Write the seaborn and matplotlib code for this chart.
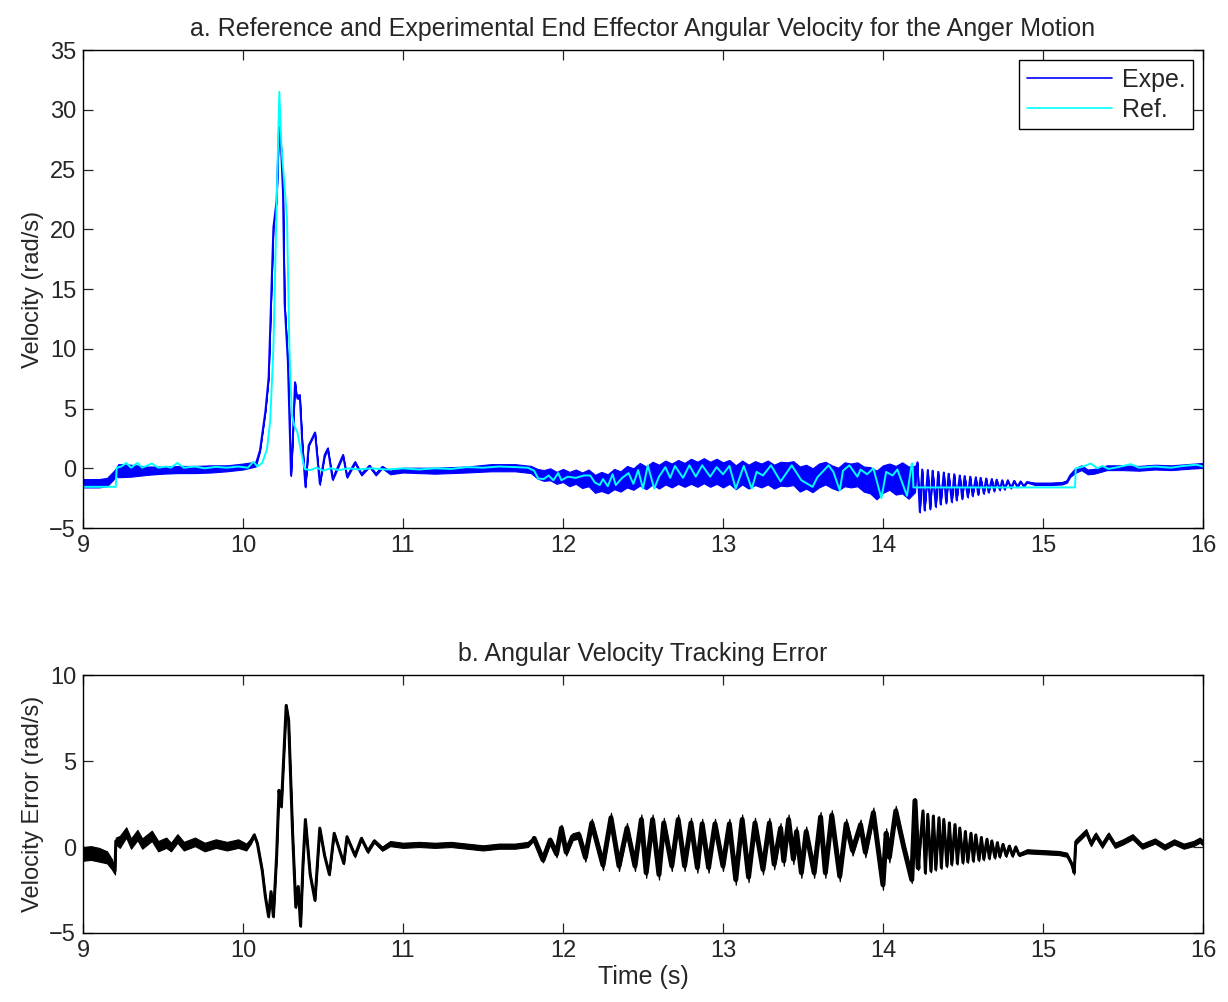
"""Reference vs experimental end effector angular velocity (anger motion) and tracking error."""

import matplotlib

matplotlib.use("Agg")
import matplotlib.pyplot as plt
import numpy as np
import seaborn as sns

# ---- data: (time s, value rad/s) ----------------------------------------------
REF_START = [
    (9.00, -1.55), (9.205, -1.55), (9.21, 0.05), (9.24, 0.15), (9.27, 0.45), (9.30, 0.05),
    (9.34, 0.45), (9.37, 0.05), (9.43, 0.40), (9.47, 0.05), (9.52, 0.15), (9.55, 0.05),
    (9.59, 0.45), (9.63, 0.05), (9.70, 0.15), (9.76, 0.0), (9.83, 0.12), (9.90, 0.05),
    (9.97, 0.15), (10.03, 0.05), (10.065, 0.55), (10.09, 0.15), (10.12, 0.45),
]
REF_PEAK = [
    (10.15, 1.6), (10.17, 4.0), (10.19, 10.0), (10.21, 22.0), (10.227, 31.5), (10.24, 27.0),
    (10.26, 23.5), (10.275, 21.0), (10.29, 10.0), (10.305, 4.5), (10.32, 3.6), (10.34, 3.0),
    (10.36, 1.6), (10.385, -0.05),
]
REF_CALM = [
    (10.42, -0.15), (10.46, 0.05), (10.50, -0.2), (10.55, 0.0), (10.60, -0.15), (10.66, 0.0),
    (10.72, -0.1), (10.80, 0.0), (10.90, -0.1), (11.00, 0.0), (11.10, -0.1), (11.20, 0.0),
    (11.30, -0.05), (11.40, 0.1), (11.50, 0.05), (11.60, 0.15), (11.70, 0.1), (11.78, 0.05),
]
REF_OSC = [
    (11.82, -0.2), (11.845, -0.85), (11.88, -0.9), (11.91, -0.6), (11.94, -1.0), (11.97, -0.4),
    (11.99, -1.0), (12.03, -0.7), (12.08, -0.8), (12.13, -0.6), (12.17, -0.6), (12.20, -1.2),
    (12.23, -1.4), (12.25, -0.9), (12.28, -1.5), (12.31, -0.5), (12.33, -1.4), (12.37, -0.8),
    (12.41, -0.4), (12.44, -1.3), (12.47, -0.15), (12.50, -1.7), (12.53, 0.25), (12.57, -1.7),
    (12.60, -0.7), (12.64, 0.1), (12.67, -0.8), (12.70, 0.2), (12.75, -0.8), (12.79, 0.25),
    (12.83, -0.7), (12.87, 0.25), (12.92, -0.7), (12.96, 0.1), (13.00, -0.5), (13.04, 0.2),
    (13.08, -1.7), (13.13, 0.2), (13.18, -1.7), (13.21, -0.3), (13.25, -0.6), (13.30, 0.25),
    (13.36, -1.1), (13.43, 0.25), (13.49, -1.0), (13.56, -1.55), (13.59, -0.75), (13.66, 0.25),
    (13.69, -0.3), (13.73, -1.85), (13.75, -0.2), (13.79, 0.25), (13.84, -0.7), (13.86, -0.1),
    (13.90, -0.5), (13.94, 0.0), (13.99, -2.5), (14.02, -0.3), (14.06, -0.6), (14.09, -0.1),
    (14.15, -2.3), (14.18, 0.4), (14.185, 0.4), (14.19, -1.6),
]
REF_END = [
    (15.20, -1.6), (15.205, 0.0), (15.24, 0.1), (15.30, 0.4), (15.34, 0.0), (15.37, 0.2),
    (15.41, -0.05), (15.47, 0.1), (15.55, 0.35), (15.60, 0.05), (15.70, 0.15), (15.80, 0.05),
    (15.88, 0.2), (15.96, 0.3), (16.00, 0.15),
]

# experimental: (time, centre, noise half-width)
EXP_START = [
    (9.00, -1.25, 0.35), (9.10, -1.25, 0.35), (9.15, -1.15, 0.35), (9.19, -0.6, 0.35),
    (9.205, -0.3, 0.3), (9.22, -0.2, 0.55), (9.30, -0.2, 0.5), (9.40, -0.2, 0.35),
    (9.50, -0.15, 0.3), (9.60, -0.1, 0.3), (9.70, -0.1, 0.3), (9.80, -0.05, 0.3),
    (9.90, 0.0, 0.25), (10.00, 0.15, 0.25), (10.08, 0.35, 0.2),
]
EXP_PEAK = [
    (10.106, 1.5, 0.1), (10.14, 4.8, 0.05), (10.16, 7.6, 0.05), (10.18, 16.0, 0.05),
    (10.19, 20.2, 0.05), (10.21, 22.4, 0.05), (10.225, 28.6, 0.05), (10.235, 27.8, 0.05),
    (10.25, 23.0, 0.05), (10.26, 13.8, 0.05), (10.28, 9.0, 0.05), (10.30, -0.6, 0.05),
    (10.31, 2.2, 0.05), (10.325, 7.2, 0.05), (10.335, 6.0, 0.15), (10.355, 6.0, 0.2),
    (10.37, 2.2, 0.05), (10.39, -1.55, 0.05), (10.41, 1.9, 0.05), (10.45, 3.0, 0.05),
    (10.48, -1.3, 0.1), (10.51, 1.1, 0.1), (10.53, 1.65, 0.1), (10.56, -0.9, 0.1),
    (10.625, 1.1, 0.1), (10.65, -0.7, 0.1), (10.70, 0.5, 0.1), (10.74, -0.5, 0.1),
    (10.79, 0.2, 0.1), (10.83, -0.5, 0.1), (10.87, 0.1, 0.1), (10.92, -0.35, 0.15),
]
EXP_CALM = [
    (11.00, -0.15, 0.2), (11.20, -0.2, 0.25), (11.40, -0.1, 0.25), (11.55, 0.05, 0.3),
    (11.70, 0.05, 0.3), (11.80, -0.1, 0.3),
]
EXP_OSC = [
    (11.84, -0.45, 0.4), (11.88, -0.6, 0.45), (11.92, -0.5, 0.5), (11.96, -0.8, 0.5),
    (12.00, -0.6, 0.55), (12.04, -0.9, 0.6), (12.08, -0.7, 0.6), (12.12, -1.0, 0.65),
    (12.16, -0.8, 0.7), (12.20, -1.3, 0.75), (12.24, -1.1, 0.8), (12.28, -1.3, 0.8),
    (12.32, -0.9, 0.85), (12.36, -1.1, 0.85), (12.40, -0.7, 0.9), (12.44, -0.9, 0.9),
    (12.48, -0.5, 0.95), (12.52, -0.8, 0.95), (12.56, -0.4, 0.95), (12.60, -0.7, 1.0),
    (12.64, -0.35, 1.0), (12.68, -0.6, 1.0), (12.72, -0.3, 1.0), (12.76, -0.55, 1.0),
    (12.80, -0.25, 1.05), (12.84, -0.5, 1.05), (12.88, -0.2, 1.05), (12.92, -0.5, 1.05),
    (12.96, -0.25, 1.05), (13.00, -0.55, 1.05), (13.04, -0.3, 1.0), (13.08, -0.75, 1.0),
    (13.12, -0.35, 1.0), (13.16, -0.7, 1.0), (13.20, -0.4, 1.0), (13.24, -0.6, 1.0),
    (13.28, -0.35, 1.0), (13.32, -0.7, 1.0), (13.36, -0.45, 1.0), (13.40, -0.5, 1.0),
    (13.44, -0.4, 1.0), (13.48, -0.9, 1.05), (13.52, -0.7, 1.0), (13.56, -1.0, 1.0),
    (13.60, -0.6, 1.0), (13.64, -0.4, 0.95), (13.68, -0.7, 0.95), (13.72, -0.9, 0.95),
    (13.76, -0.5, 1.0), (13.80, -0.6, 1.0), (13.84, -0.5, 1.0), (13.88, -0.9, 1.05),
    (13.92, -1.0, 1.1), (13.96, -1.4, 1.2), (14.00, -0.9, 1.15), (14.04, -0.7, 1.1),
    (14.08, -1.0, 1.2), (14.12, -0.8, 1.3), (14.16, -1.2, 1.35), (14.20, -0.9, 1.1),
]
EXP_SPIKES = [
    (14.215, 0.5, 0.05), (14.23, -3.65, 0.05), (14.245, -0.1, 0.05), (14.26, -3.5, 0.05),
    (14.28, -0.15, 0.05), (14.295, -3.4, 0.05), (14.31, -0.2, 0.05), (14.33, -3.2, 0.05),
    (14.345, -0.3, 0.05), (14.36, -3.0, 0.05), (14.38, -0.35, 0.05), (14.395, -2.9, 0.05),
    (14.41, -0.45, 0.05), (14.43, -2.8, 0.05), (14.445, -0.5, 0.05), (14.46, -2.65, 0.05),
    (14.48, -0.6, 0.05), (14.495, -2.55, 0.05), (14.51, -0.65, 0.05), (14.53, -2.4, 0.05),
    (14.545, -0.7, 0.05), (14.56, -2.3, 0.05), (14.58, -0.75, 0.05), (14.595, -2.2, 0.05),
    (14.61, -0.8, 0.05), (14.63, -2.1, 0.05), (14.645, -0.85, 0.05), (14.66, -2.0, 0.05),
    (14.68, -0.9, 0.05), (14.695, -1.9, 0.05), (14.71, -0.95, 0.05), (14.73, -1.8, 0.05),
    (14.745, -1.0, 0.05), (14.76, -1.75, 0.05), (14.78, -1.0, 0.05), (14.80, -1.65, 0.05),
    (14.82, -1.05, 0.05), (14.84, -1.55, 0.05), (14.86, -1.1, 0.05), (14.88, -1.5, 0.05),
    (14.90, -1.15, 0.05),
]
EXP_END = [
    (14.95, -1.3, 0.1), (15.05, -1.3, 0.1), (15.12, -1.25, 0.1), (15.15, -1.1, 0.1),
    (15.17, -0.6, 0.12), (15.20, -0.2, 0.2), (15.24, 0.05, 0.2), (15.28, -0.3, 0.2),
    (15.32, -0.25, 0.2), (15.40, 0.05, 0.2), (15.50, 0.05, 0.2), (15.60, 0.0, 0.2),
    (15.70, 0.1, 0.2), (15.80, 0.05, 0.2), (15.90, 0.15, 0.2), (16.00, 0.25, 0.2),
]

# tracking error: (time, centre, noise half-width)
ERR_START = [
    (9.00, -0.4, 0.4), (9.05, -0.35, 0.4), (9.10, -0.45, 0.4), (9.15, -0.6, 0.35),
    (9.18, -1.0, 0.3), (9.20, -1.4, 0.2), (9.205, 0.35, 0.2), (9.23, 0.3, 0.35),
    (9.27, 0.85, 0.3), (9.30, 0.2, 0.3), (9.34, 0.7, 0.3), (9.37, 0.2, 0.3),
    (9.43, 0.65, 0.3), (9.47, 0.05, 0.3), (9.52, 0.25, 0.3), (9.55, 0.0, 0.25),
    (9.59, 0.5, 0.25), (9.63, 0.05, 0.25), (9.70, 0.3, 0.25), (9.76, 0.0, 0.25),
    (9.83, 0.2, 0.25), (9.90, 0.05, 0.25), (9.97, 0.2, 0.25), (10.02, 0.0, 0.2),
    (10.05, 0.35, 0.15),
]
ERR_PEAK = [
    (10.07, 0.7, 0.1), (10.09, 0.2, 0.08), (10.12, -1.35, 0.05), (10.14, -2.9, 0.05),
    (10.16, -4.05, 0.05), (10.175, -2.6, 0.05), (10.19, -4.05, 0.05), (10.21, -0.55, 0.05),
    (10.225, 3.3, 0.05), (10.24, 2.35, 0.05), (10.27, 8.25, 0.05), (10.285, 7.4, 0.05),
    (10.30, 3.5, 0.05), (10.31, 0.8, 0.05), (10.33, -3.5, 0.05), (10.345, -2.3, 0.05),
    (10.36, -4.6, 0.05), (10.375, -1.0, 0.05), (10.39, 1.6, 0.05), (10.42, -1.6, 0.05),
    (10.45, -3.1, 0.05), (10.48, 1.1, 0.05), (10.51, -0.5, 0.05), (10.54, -1.6, 0.05),
    (10.57, 0.8, 0.05), (10.63, -0.95, 0.05), (10.65, 0.6, 0.05), (10.70, -0.5, 0.1),
    (10.74, 0.5, 0.1), (10.78, -0.25, 0.1), (10.82, 0.35, 0.1), (10.87, -0.1, 0.12),
    (10.92, 0.2, 0.15),
]
ERR_CALM = [
    (11.00, 0.1, 0.15), (11.10, 0.15, 0.15), (11.20, 0.1, 0.15), (11.30, 0.15, 0.15),
    (11.40, 0.05, 0.15), (11.50, -0.05, 0.15), (11.60, 0.05, 0.15), (11.70, 0.05, 0.15),
    (11.78, 0.15, 0.15),
]
ERR_OSC = [
    (11.82, 0.5, 0.1), (11.875, -0.75, 0.15), (11.92, 0.4, 0.15), (11.96, -0.4, 0.2),
    (11.99, 1.1, 0.2), (12.02, -0.3, 0.2), (12.06, 0.6, 0.2), (12.10, 0.7, 0.2),
    (12.14, -0.6, 0.25), (12.18, 1.4, 0.25), (12.25, -1.05, 0.3), (12.30, 1.7, 0.3),
    (12.35, -1.1, 0.3), (12.40, 1.1, 0.3), (12.45, -1.1, 0.3), (12.49, 1.6, 0.3),
    (12.52, -1.5, 0.3), (12.56, 1.6, 0.3), (12.60, -1.6, 0.3), (12.63, 1.4, 0.3),
    (12.68, -1.1, 0.3), (12.72, 1.6, 0.3), (12.76, -1.1, 0.3), (12.80, 1.4, 0.3),
    (12.84, -1.2, 0.3), (12.87, 1.35, 0.3), (12.91, -1.2, 0.3), (12.95, 1.35, 0.3),
    (13.00, -1.1, 0.3), (13.04, 1.35, 0.3), (13.08, -1.9, 0.3), (13.12, 1.6, 0.3),
    (13.16, -1.75, 0.3), (13.20, 1.4, 0.3), (13.25, -1.3, 0.3), (13.29, 1.4, 0.3),
    (13.32, -1.0, 0.3), (13.36, 1.1, 0.3), (13.38, -0.8, 0.3), (13.41, 1.6, 0.3),
    (13.44, -0.7, 0.3), (13.46, 0.9, 0.3), (13.49, -1.5, 0.3), (13.52, 0.9, 0.3),
    (13.57, -1.5, 0.3), (13.61, 1.75, 0.3), (13.64, -1.5, 0.3), (13.68, 1.85, 0.3),
    (13.73, -1.7, 0.3), (13.77, 1.35, 0.3), (13.81, -0.2, 0.3), (13.86, 1.3, 0.3),
    (13.89, -0.3, 0.3), (13.94, 2.0, 0.3), (14.00, -2.2, 0.3), (14.02, 0.8, 0.3),
    (14.04, -0.6, 0.3), (14.08, 2.1, 0.3), (14.13, 0.0, 0.3), (14.18, -1.9, 0.2),
    (14.20, 2.7, 0.15), (14.22, -1.2, 0.15),
]
ERR_SPIKES = [
    (14.25, 2.1, 0.08), (14.265, -1.5, 0.08), (14.28, 1.9, 0.08), (14.30, -1.4, 0.08),
    (14.315, 1.8, 0.08), (14.33, -1.3, 0.08), (14.35, 1.7, 0.08), (14.365, -1.2, 0.08),
    (14.38, 1.6, 0.08), (14.40, -1.1, 0.08), (14.415, 1.4, 0.08), (14.43, -1.0, 0.08),
    (14.45, 1.3, 0.08), (14.465, -0.95, 0.08), (14.48, 1.1, 0.08), (14.50, -0.9, 0.08),
    (14.515, 0.9, 0.08), (14.53, -0.85, 0.08), (14.55, 0.8, 0.08), (14.565, -0.8, 0.08),
    (14.58, 0.7, 0.08), (14.60, -0.75, 0.08), (14.615, 0.55, 0.08), (14.63, -0.7, 0.08),
    (14.65, 0.45, 0.08), (14.665, -0.65, 0.08), (14.68, 0.35, 0.08), (14.70, -0.6, 0.08),
    (14.715, 0.25, 0.08), (14.73, -0.55, 0.08), (14.75, 0.15, 0.08), (14.77, -0.5, 0.08),
    (14.79, 0.05, 0.08), (14.81, -0.5, 0.08), (14.83, 0.0, 0.08), (14.85, -0.45, 0.08),
]
ERR_END = [
    (14.90, -0.25, 0.12), (15.00, -0.3, 0.12), (15.10, -0.35, 0.12), (15.15, -0.45, 0.12),
    (15.18, -1.0, 0.12), (15.195, -1.5, 0.1), (15.205, 0.3, 0.15), (15.27, 0.9, 0.15),
    (15.30, 0.2, 0.15), (15.33, 0.7, 0.15), (15.37, 0.1, 0.15), (15.41, 0.7, 0.15),
    (15.45, 0.1, 0.15), (15.50, 0.3, 0.15), (15.56, 0.6, 0.15), (15.62, 0.05, 0.15),
    (15.70, 0.35, 0.15), (15.76, 0.0, 0.15), (15.82, 0.3, 0.15), (15.88, 0.05, 0.15),
    (15.94, 0.2, 0.15), (15.98, 0.4, 0.15), (16.00, 0.25, 0.15),
]

TOP_YTICKS = [-5, 0, 5, 10, 15, 20, 25, 30, 35]
BOTTOM_YTICKS = [-5, 0, 5, 10]
XTICKS = [9, 10, 11, 12, 13, 14, 15, 16]

BLUE = "#0000ff"
CYAN = "#00ffff"
FS = 17


def stack(*segments):
    arr = np.array([row for seg in segments for row in seg], dtype=float)
    return [arr[:, i] for i in range(arr.shape[1])]


def noisy_trace(ax, t, v, w, color, lw, label=None):
    # noise band first, then the centre line on top of it
    ax.fill_between(t, v - w, v + w, color=color, linewidth=0.8, edgecolor=color)
    sns.lineplot(x=t, y=v, ax=ax, color=color, linewidth=lw, estimator=None, sort=False, label=label)


def style_axes(ax, ylim, yticks):
    ax.set_xlim(9, 16)
    ax.set_ylim(*ylim)
    ax.set_xticks(XTICKS)
    ax.set_yticks(yticks)
    ax.tick_params(direction="in", top=True, right=True, length=7, width=0.9, labelsize=FS, pad=5)
    for sp in ax.spines.values():
        sp.set_color("black")
        sp.set_linewidth(1.0)


def main() -> None:
    sns.set_style("ticks")
    plt.rcParams["font.family"] = ["Liberation Sans", "DejaVu Sans"]

    fig = plt.figure(figsize=(12.28, 10.02), dpi=100)
    ax_top = fig.add_axes([0.0676, 0.473, 0.912, 0.477])
    ax_bot = fig.add_axes([0.0676, 0.069, 0.912, 0.257])

    ref_t, ref_v = stack(REF_START, REF_PEAK, REF_CALM, REF_OSC, REF_END)
    exp_t, exp_v, exp_w = stack(EXP_START, EXP_PEAK, EXP_CALM, EXP_OSC, EXP_SPIKES, EXP_END)
    err_t, err_v, err_w = stack(ERR_START, ERR_PEAK, ERR_CALM, ERR_OSC, ERR_SPIKES, ERR_END)

    noisy_trace(ax_top, exp_t, exp_v, exp_w, BLUE, 1.4, label="Expe.")
    sns.lineplot(x=ref_t, y=ref_v, ax=ax_top, color=CYAN, linewidth=1.4,
                 estimator=None, sort=False, label="Ref.")
    style_axes(ax_top, (-5, 35), TOP_YTICKS)
    ax_top.set_xlabel("")
    ax_top.set_ylabel("Velocity (rad/s)", fontsize=FS, labelpad=4)
    ax_top.set_title("a. Reference and Experimental End Effector Angular Velocity for the Anger Motion",
                     fontsize=18, pad=10)
    leg = ax_top.legend(loc="upper right", fontsize=18, frameon=True, fancybox=False,
                        edgecolor="black", framealpha=1, handlelength=3.4, borderaxespad=0.4,
                        borderpad=0.3, labelspacing=0.25, handletextpad=0.4)
    leg.get_frame().set_linewidth(1.0)
    for h in leg.get_lines():
        h.set_linewidth(1.2)

    noisy_trace(ax_bot, err_t, err_v, err_w, "black", 2.2)
    # the oscillating stretch carries heavy high-frequency noise: draw it heavier
    osc_t, osc_v, _ = stack(ERR_OSC)
    sns.lineplot(x=osc_t, y=osc_v, ax=ax_bot, color="black", linewidth=3.6,
                 estimator=None, sort=False)
    style_axes(ax_bot, (-5, 10), BOTTOM_YTICKS)
    ax_bot.set_xlabel("Time (s)", fontsize=18, labelpad=2)
    ax_bot.set_ylabel("Velocity Error (rad/s)", fontsize=FS, labelpad=4)
    ax_bot.set_title("b. Angular Velocity Tracking Error", fontsize=18, pad=10)

    fig.savefig("out.png", dpi=100, facecolor="white")
    plt.close(fig)


if __name__ == "__main__":
    main()
